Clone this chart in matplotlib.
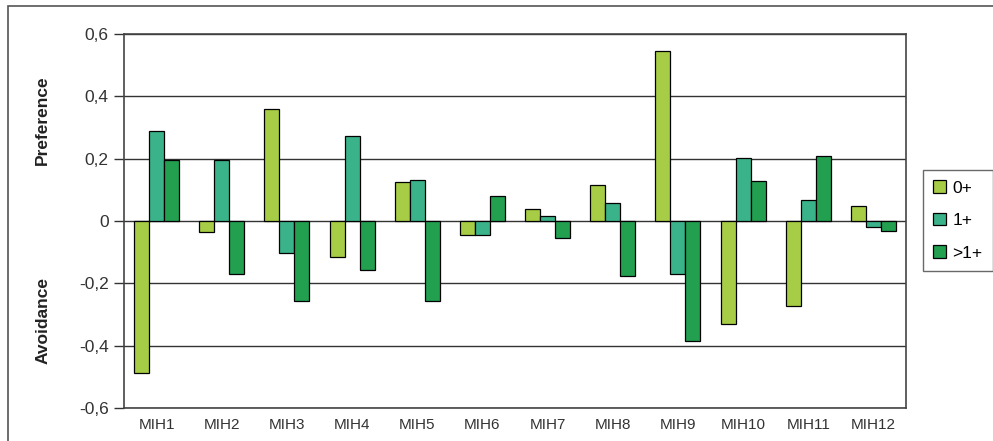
import matplotlib.pyplot as plt
import numpy as np
from matplotlib.patches import Rectangle
from matplotlib.ticker import FuncFormatter

# data
sites = ['MIH1', 'MIH2', 'MIH3', 'MIH4', 'MIH5', 'MIH6',
         'MIH7', 'MIH8', 'MIH9', 'MIH10', 'MIH11', 'MIH12']
age0 = [-0.488, -0.035, 0.358, -0.117, 0.125, -0.045, 0.037, 0.117, 0.544, -0.331, -0.272, 0.048]
age1 = [0.29, 0.196, -0.104, 0.272, 0.133, -0.045, 0.016, 0.059, -0.169, 0.202, 0.069, -0.018]
age2 = [0.196, -0.17, -0.258, -0.156, -0.258, 0.079, -0.053, -0.176, -0.384, 0.128, 0.209, -0.032]
series_names = ['0+', '1+', '>1+']
colors = ['#a6cd45', '#3bb38a', '#22a050']

plt.rcParams['font.family'] = 'Liberation Sans'

fig = plt.figure(figsize=(9.93, 4.41), dpi=100)
ax = fig.add_axes([0.1249, 0.0748, 0.7875, 0.848])

x = np.arange(len(sites))
w = 0.23
for i, (vals, name, c) in enumerate(zip([age0, age1, age2], series_names, colors)):
    ax.bar(x + (i - 1) * w, vals, w, color=c, edgecolor='black', linewidth=0.9,
           label=name, zorder=3)

ax.set_xlim(-0.5, len(sites) - 0.5)
ax.set_ylim(-0.6, 0.6)
ax.set_yticks(np.arange(-0.6, 0.61, 0.2))
ax.yaxis.set_major_formatter(FuncFormatter(
    lambda v, p: '0' if abs(v) < 1e-9 else ('%.1f' % v).replace('.', ',')))
ax.grid(axis='y', color='#333333', linewidth=1.0, zorder=0)
ax.set_xticks(x)
ax.set_xticklabels(sites, fontsize=11, color='#333333')
ax.tick_params(axis='x', length=0, pad=7)
ax.tick_params(axis='y', length=7, width=1, direction='out', labelsize=12.5,
               colors='#333333', pad=4)
for s in ax.spines.values():
    s.set_color('#444444')
    s.set_linewidth(1.2)

fig.text(0.043, 0.728, 'Preference', rotation=90, ha='center', va='center',
         fontsize=12.5, fontweight='bold', color='#222222')
fig.text(0.043, 0.274, 'Avoidance', rotation=90, ha='center', va='center',
         fontsize=12.5, fontweight='bold', color='#222222')

leg = ax.legend(loc='center left', bbox_to_anchor=(923 / 993, 0.5), bbox_transform=fig.transFigure,
                frameon=True, fancybox=False, edgecolor='#444444', fontsize=12.5,
                handlelength=0.7, handleheight=0.7, handletextpad=0.4,
                labelspacing=1.0, borderpad=0.6, borderaxespad=0)
leg.get_frame().set_linewidth(1.0)

# outer chart frame (cut off at the right and bottom)
fig.patches.append(Rectangle((8 / 993, -0.1), 1.2, 1 - 6 / 441 + 0.1, transform=fig.transFigure,
                             fill=False, edgecolor='#555555', linewidth=1.2))

fig.savefig('out.png', dpi=100)
